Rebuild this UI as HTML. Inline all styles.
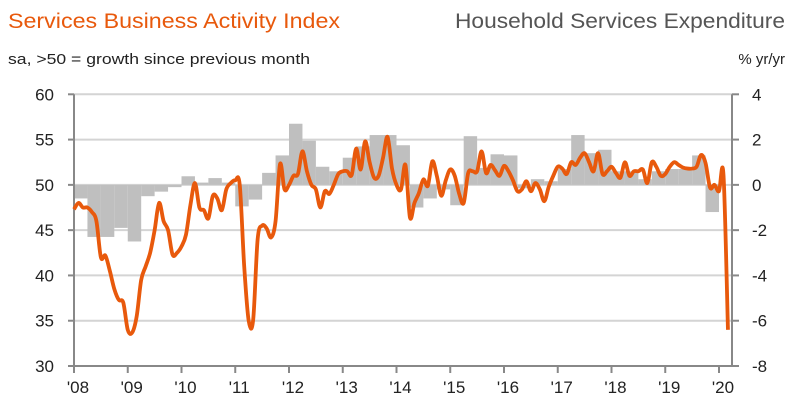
<!DOCTYPE html>
<html><head><meta charset="utf-8"><style>
html,body{margin:0;padding:0;background:#fff;}
svg{display:block;font-family:"Liberation Sans",sans-serif;}
</style></head><body>
<svg id="chart" width="793" height="420">
<text x="8" y="28" font-size="21" fill="#e8590c" textLength="332" lengthAdjust="spacingAndGlyphs">Services Business Activity Index</text>
<text x="8" y="64" font-size="15" fill="#222" textLength="302" lengthAdjust="spacingAndGlyphs">sa, &gt;50 = growth since previous month</text>
<text x="785" y="28" font-size="21" fill="#555" text-anchor="end" textLength="330" lengthAdjust="spacingAndGlyphs">Household Services Expenditure</text>
<text x="785" y="64" font-size="15" fill="#222" text-anchor="end">% yr/yr</text>
<g id="grid"></g><g id="bars"></g><g id="axes"></g><g id="line"></g>
</svg>
<script>
const yearLabels=["'08","'09","'10","'11","'12","'13","'14","'15","'16","'17","'18","'19","'20"];
const leftTicks=[30,35,40,45,50,55,60];
const rightTicks=[-8,-6,-4,-2,0,2,4];
const expenditureQ=[-0.6,-2.3,-2.3,-1.9,-2.5,-0.5,-0.3,-0.1,0.38,0.1,0.3,0.1,-0.95,-0.65,0.53,1.3,2.7,1.95,0.8,0.6,1.2,1.7,2.2,2.2,1.75,-1.0,-0.6,-0.2,-0.9,2.15,0.75,1.35,1.3,-0.15,0.25,0.16,0.7,2.2,1.4,1.55,0.6,0.6,0.25,0.6,0.7,0.7,1.3,-1.2];
const pmi=[47.3,48.0,47.5,47.5,47.0,46.0,42.0,42.2,40.5,38.5,37.3,37.0,
34.0,33.7,35.5,39.5,41.0,42.5,45.0,48.0,46.0,45.0,42.3,42.5,
43.2,44.5,47.8,50.2,47.5,47.2,46.3,48.8,48.5,47.2,49.5,50.2,
50.5,50.0,41.0,35.0,35.1,44.0,45.5,45.2,44.2,46.0,52.3,49.5,
50.0,51.0,51.2,53.7,51.5,50.0,49.5,47.5,49.3,49.0,50.0,51.2,
51.5,51.5,51.1,54.0,51.7,54.8,52.5,50.8,51.0,53.0,55.3,51.8,
50.0,49.5,52.2,46.4,48.0,49.1,50.6,49.9,52.6,51.0,48.8,50.5,
51.7,51.0,49.0,48.0,51.3,51.5,51.5,53.7,51.3,52.2,51.6,51.0,
52.1,51.5,50.5,49.3,49.5,50.4,49.3,50.2,49.5,48.2,49.8,51.0,
52.0,51.8,51.2,52.5,52.2,53.0,53.5,52.5,51.5,53.5,51.2,51.5,
52.0,51.3,50.8,52.5,51.0,51.5,51.5,51.7,50.2,52.5,52.0,51.0,
51.2,52.0,52.5,52.2,51.9,51.8,51.8,52.0,53.3,52.4,49.7,50.0,
49.3,51.1,34.0];
const X0=74,X1=732,YT=94.3,YB=366,YEARW=53.75;
const xm=m=>X0+m*YEARW/12;
const yl=v=>YB-(v-30)/30*(YB-YT);
const yr=v=>YB-(v+8)/12*(YB-YT);
const NS="http://www.w3.org/2000/svg";
function mk(tag,attrs,parent){const e=document.createElementNS(NS,tag);for(const k in attrs)e.setAttribute(k,attrs[k]);parent.appendChild(e);return e;}
const grid=document.getElementById('grid'),bars=document.getElementById('bars'),axes=document.getElementById('axes'),lineG=document.getElementById('line');
leftTicks.forEach(v=>{
 if(v>30){const g=mk('line',{x1:X0,x2:X1,y1:yl(v),y2:yl(v),stroke:'#d4d4d4','stroke-width':2},grid);
 
 }
 const t=mk('text',{x:54,y:yl(v)+6,'font-size':17,'text-anchor':'end',fill:'#222'},axes);t.textContent=v;
 
 
 mk('line',{x1:X0-6,x2:X0,y1:yl(v),y2:yl(v),stroke:'#888','stroke-width':2},axes);
});
rightTicks.forEach(v=>{
 const t=mk('text',{x:752,y:yr(v)+6,'font-size':17,fill:'#222'},axes);t.textContent=v;
 
 
 mk('line',{x1:X1,x2:X1+7,y1:yr(v),y2:yr(v),stroke:'#888','stroke-width':2},axes);
});
expenditureQ.forEach((v,i)=>{
 const xa=xm(i*3),xb=xm(i*3+3);const y0=yr(0),y1=yr(v);
 const r=mk('rect',{x:xa,y:Math.min(y0,y1),width:xb-xa,height:Math.max(1,Math.abs(y1-y0)),fill:'#bfbfbf'},bars);
 
 
});
const la=mk('line',{x1:X0,x2:X0,y1:YT,y2:YB,stroke:'#888','stroke-width':2},axes);

const ra=mk('line',{x1:X1,x2:X1,y1:YT,y2:YB,stroke:'#888','stroke-width':2},axes);

const xa=mk('line',{x1:X0,x2:X1,y1:YB,y2:YB,stroke:'#888','stroke-width':2},axes);

yearLabels.forEach((lab,i)=>{
 const x=xm(i*12);
 mk('line',{x1:x,x2:x,y1:YB,y2:YB+7,stroke:'#888','stroke-width':2},axes);
 const t=mk('text',{x:x+4,y:393,'font-size':17,'text-anchor':'middle',fill:'#222'},axes);t.textContent=lab;
 
 
});
const pts=pmi.map((v,i)=>[xm(i),yl(v)]);
let d='M'+pts[0][0]+','+pts[0][1];
for(let i=0;i<pts.length-1;i++){
 const p0=pts[Math.max(0,i-1)],p1=pts[i],p2=pts[i+1],p3=pts[Math.min(pts.length-1,i+2)];
 const c1=[p1[0]+(p2[0]-p0[0])/6,p1[1]+(p2[1]-p0[1])/6],c2=[p2[0]-(p3[0]-p1[0])/6,p2[1]-(p3[1]-p1[1])/6];
 d+=' C'+c1+' '+c2+' '+p2;
}
const path=mk('path',{d:d,fill:'none',stroke:'#e8590c','stroke-width':3.8,'stroke-linejoin':'round'},lineG);


</script>
</body></html>
